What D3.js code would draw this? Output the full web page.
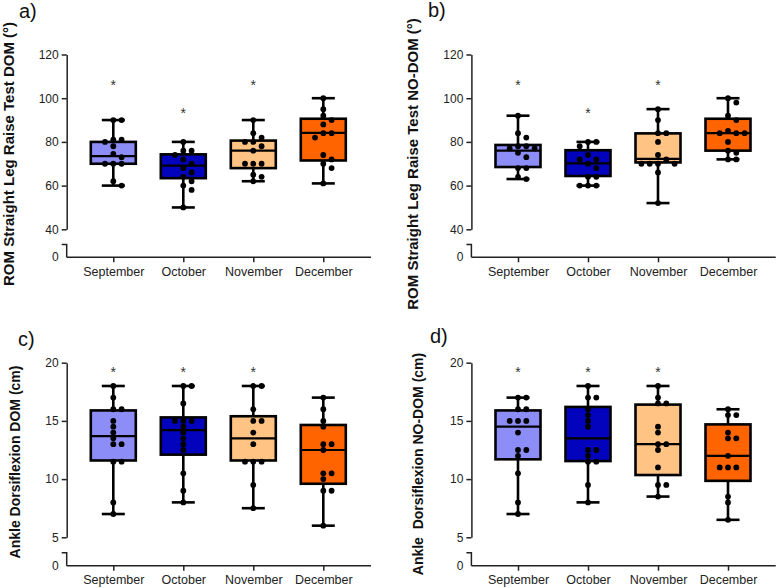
<!DOCTYPE html>
<html><head><meta charset="utf-8">
<script src="https://cdn.jsdelivr.net/npm/d3@7"></script>
<style>html,body{margin:0;padding:0;background:#fff;} svg{display:block;font-family:"Liberation Sans",Arial,sans-serif;}</style>
</head><body><svg id="chart" width="777" height="588"></svg>
<script>
const categories = ["September", "October", "November", "December"];

// a) ROM Straight Leg Raise Test DOM
const romDomBox = [[60, 70, 73.5, 80, 90], [50, 63.4, 69.1, 74.3, 80], [62, 68, 76, 80.6, 90], [61, 71.5, 84.1, 90.6, 100]];
const romDomPts = [
  [90, 90, 81, 81, 80, 78, 74.5, 73, 70, 70, 70, 62, 60],
  [80, 76, 76, 74, 72, 70, 68, 66, 64, 62, 60, 58, 50],
  [90, 84, 82, 80, 80, 78, 76, 70, 70, 70, 65, 64, 62],
  [100, 95, 92, 90, 88, 84, 84, 82, 74, 72, 70, 68, 61]
];
const romDomStars = [107.5, 94.6, 107.5, null];

// b) ROM Straight Leg Raise Test NO-DOM
const romNoDomBox = [[63, 68.5, 76, 78.6, 92], [60, 64.4, 70.2, 76.2, 80], [52, 70.6, 72.2, 83.9, 95], [72, 76, 84, 90.6, 100]];
const romNoDomPts = [
  [92, 84, 82, 78, 78, 77, 77, 75, 73, 68, 68, 64, 63],
  [80, 80, 78, 74, 72, 72, 70, 68, 64, 64, 60, 60, 60],
  [95, 90, 84, 84, 80, 74, 72, 70, 70, 70, 70, 66, 52],
  [100, 98, 92, 90, 85, 84, 84, 84, 80, 76, 75, 72, 72]
];
const romNoDomStars = [107.5, 94.6, 107.5, null];

// c) Ankle Dorsiflexion DOM
const ankleDomBox = [[7, 11.6, 13.7, 15.9, 18], [8, 12.1, 14.2, 15.3, 18], [7.5, 11.6, 13.5, 15.4, 18], [6, 9.6, 12.5, 14.65, 17]];
const ankleDomPts = [
  [18, 17, 16, 16, 15, 14.5, 14, 13.5, 13, 13, 11.5, 11.5, 8, 7],
  [18, 18, 16.5, 15, 15, 15, 14.5, 14, 13.5, 13, 12.5, 10.5, 9, 8],
  [18, 18, 16, 15, 15, 14, 13, 11.5, 11.5, 11.5, 9.5, 7.5],
  [17, 16, 15, 14.5, 13, 13, 12.5, 10.5, 10.5, 10, 9, 9, 6]
];
const ankleDomStars = [19.5, 19.5, 19.5, null];

// d) Ankle Dorsiflexion NO-DOM
const ankleNoDomBox = [[7, 11.7, 14.5, 15.9, 17], [8, 11.55, 13.5, 16.2, 18], [8.5, 10.35, 13, 16.4, 18], [6.5, 9.85, 12, 14.7, 16]];
const ankleNoDomPts = [
  [17, 17, 16, 16, 15, 15, 15, 14, 12.5, 12.5, 12, 10.5, 8, 7],
  [18, 17, 17, 16, 15.5, 15, 14.5, 12.5, 12.5, 12, 11.5, 11.5, 9.5, 8],
  [18, 17, 16.5, 16.5, 14.5, 14, 13, 13, 12.5, 11, 9.5, 9.5, 8.5],
  [16, 15.5, 15.5, 14, 13.5, 13.5, 12, 11, 11, 11, 8.5, 8, 6.5]
];
const ankleNoDomStars = [19.5, 19.5, 19.5, null];

const romTicks = [40, 60, 80, 100, 120];
const ankleTicks = [5, 10, 15, 20];

const fills = ["#8d8df7", "#0303bd", "#ffc384", "#ff6400"];

const panels = [
  {label: "a)", lx: 19, ly: 18, title: "ROM Straight Leg Raise Test DOM (°)", tx: 8, ty: 154, tfs: 15,
   ox: 0, top: 54.5, low: 229.3, hook: 244.5, base: 257.3, domain: [40, 120], ticks: romTicks,
   box: romDomBox, pts: romDomPts, stars: romDomStars, xEnd: 371},
  {label: "b)", lx: 428, ly: 17, title: "ROM Straight Leg Raise Test NO-DOM (°)", tx: 412, ty: 164, tfs: 15,
   ox: 404.7, top: 54.5, low: 229.3, hook: 244.5, base: 257.3, domain: [40, 120], ticks: romTicks,
   box: romNoDomBox, pts: romNoDomPts, stars: romNoDomStars, xEnd: 371},
  {label: "c)", lx: 18, ly: 346, title: "Ankle Dorsiflexion DOM (cm)", tx: 14.5, ty: 462, tfs: 14,
   ox: 0, top: 362.7, low: 537.3, hook: 552.7, base: 565.7, domain: [5, 20], ticks: ankleTicks,
   box: ankleDomBox, pts: ankleDomPts, stars: ankleDomStars, xEnd: 371},
  {label: "d)", lx: 430, ly: 343, title: "Ankle  Dorsiflexion NO-DOM (cm)", tx: 418, ty: 464, tfs: 14,
   ox: 404.7, top: 362.7, low: 537.3, hook: 552.7, base: 565.7, domain: [5, 20], ticks: ankleTicks,
   box: ankleNoDomBox, pts: ankleNoDomPts, stars: ankleNoDomStars, xEnd: 371}
];

const svg = d3.select("#chart");
svg.append("rect").attr("width", 777).attr("height", 588).attr("fill", "#fff");

panels.forEach(p => {
  const g = svg.append("g");
  const axisX = 66.7 + p.ox;
  const x = d3.scalePoint().domain(categories).range([113.3 + p.ox, 323.3 + p.ox]);
  const y = d3.scaleLinear().domain(p.domain).range([p.low, p.top]);

  // panel label
  g.append("text").attr("x", p.lx).attr("y", p.ly).attr("font-size", 20).attr("fill", "#111").text(p.label);
  // y title
  g.append("text").attr("transform", `translate(${p.tx},${p.ty}) rotate(-90)`)
    .attr("text-anchor", "middle").attr("dominant-baseline", "central")
    .attr("font-size", p.tfs).attr("font-weight", "bold").attr("fill", "#111")
    .style("white-space", "pre").attr("xml:space", "preserve").text(p.title);

  // upper y axis
  const yAxis = d3.axisLeft(y).tickValues(p.ticks).tickSize(5).tickPadding(3).tickSizeOuter(0);
  const ya = g.append("g").attr("transform", `translate(${axisX},0)`).call(yAxis);
  ya.select(".domain").attr("stroke", "#222").attr("stroke-width", 1.5);
  ya.selectAll(".tick line").attr("stroke", "#222").attr("stroke-width", 1.5);
  ya.selectAll(".tick text").attr("font-size", 12).attr("fill", "#222").attr("font-family", "Liberation Sans, Arial, sans-serif");

  // broken lower segment with zero
  g.append("path").attr("d", `M${axisX - 5},${p.hook}H${axisX}V${p.base}`)
    .attr("fill", "none").attr("stroke", "#222").attr("stroke-width", 1.5);
  g.append("text").attr("x", axisX - 8).attr("y", p.base).attr("dy", "0.32em")
    .attr("text-anchor", "end").attr("font-size", 12).attr("fill", "#222").text("0");

  // x axis
  const xAxis = d3.axisBottom(x).tickSize(5).tickPadding(4.5).tickSizeOuter(0);
  const xa = g.append("g").attr("transform", `translate(0,${p.base})`).call(xAxis);
  xa.select(".domain").attr("d", `M${axisX},0H${p.xEnd + p.ox}`).attr("stroke", "#222").attr("stroke-width", 1.5);
  xa.selectAll(".tick line").attr("stroke", "#222").attr("stroke-width", 1.5);
  xa.selectAll(".tick text").attr("font-size", 12.5).attr("fill", "#222").attr("font-family", "Liberation Sans, Arial, sans-serif");

  const hw = 22.5, cw = 11.5;
  categories.forEach((c, i) => {
    const cx = x(c);
    const [mn, q1, md, q3, mx] = p.box[i];
    const bg = g.append("g");
    // whiskers
    bg.append("line").attr("x1", cx).attr("x2", cx).attr("y1", y(mx)).attr("y2", y(q3)).attr("stroke", "#000").attr("stroke-width", 2.6);
    bg.append("line").attr("x1", cx).attr("x2", cx).attr("y1", y(q1)).attr("y2", y(mn)).attr("stroke", "#000").attr("stroke-width", 2.6);
    bg.append("line").attr("x1", cx - cw).attr("x2", cx + cw).attr("y1", y(mx)).attr("y2", y(mx)).attr("stroke", "#000").attr("stroke-width", 2.6);
    bg.append("line").attr("x1", cx - cw).attr("x2", cx + cw).attr("y1", y(mn)).attr("y2", y(mn)).attr("stroke", "#000").attr("stroke-width", 2.6);
    // box
    bg.append("rect").attr("x", cx - hw).attr("y", y(q3)).attr("width", hw * 2).attr("height", y(q1) - y(q3))
      .attr("fill", fills[i]).attr("stroke", "#000").attr("stroke-width", 2.6);
    bg.append("line").attr("x1", cx - hw).attr("x2", cx + hw).attr("y1", y(md)).attr("y2", y(md)).attr("stroke", "#000").attr("stroke-width", 2.2);

    // dodged points
    const placed = [];
    const r = 2.9, col = 8.3, minD = 5.4;
    const order = [0, 1, -1, 2, -2, 3, -3];
    p.pts[i].forEach(v => {
      const py = y(v);
      let px = cx;
      for (const k of order) {
        const tx = cx + k * col;
        if (!placed.some(q => Math.hypot(q[0] - tx, q[1] - py) < minD)) { px = tx; break; }
      }
      placed.push([px, py]);
    });
    bg.selectAll("circle.pt").data(placed).join("circle").attr("class", "pt")
      .attr("cx", d => d[0]).attr("cy", d => d[1]).attr("r", r).attr("fill", "#000");

    if (p.stars[i] != null) {
      g.append("text").attr("x", cx).attr("y", y(p.stars[i]) + 8).attr("text-anchor", "middle")
        .attr("font-size", 14).attr("fill", "#333").text("*");
    }
  });
});
</script></body></html>
